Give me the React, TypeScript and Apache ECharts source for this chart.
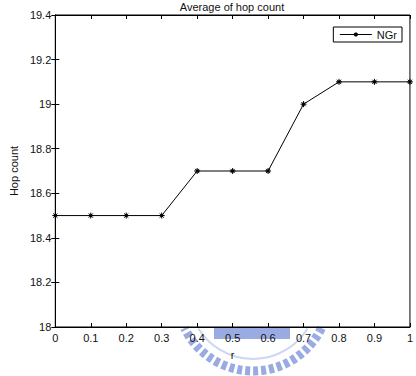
import React, { useEffect, useRef } from "react";
import * as echarts from "echarts";

const rValues = [0, 0.1, 0.2, 0.3, 0.4, 0.5, 0.6, 0.7, 0.8, 0.9, 1];
const hopCount = [18.5, 18.5, 18.5, 18.5, 18.7, 18.7, 18.7, 19.0, 19.1, 19.1, 19.1];
const seriesName = "NGr";
const titleText = "Average of hop count";

const starPath = "path://M5,0L5,10M0,5L10,5M1.5,1.5L8.5,8.5M1.5,8.5L8.5,1.5M3.5,3.5L6.5,3.5L6.5,6.5L3.5,6.5Z";

export default function App() {
  const ref = useRef<HTMLDivElement>(null);
  useEffect(() => {
    const chart = echarts.init(ref.current!, null, { renderer: "svg" });
    const font = "Liberation Sans";
    const data = rValues.map((r, i) => [r, hopCount[i]]);
    chart.setOption({
      animation: false,
      backgroundColor: "#ffffff",
      textStyle: { fontFamily: font },
      grid: { left: 44, right: 6, top: 15, bottom: 49, show: true, borderColor: "#000", borderWidth: 1 },
      title: {
        text: titleText,
        left: 227,
        textAlign: "center",
        top: -4,
        textStyle: { fontSize: 11, fontWeight: "normal", color: "#111", fontFamily: font },
      },
      legend: {
        data: [{ name: seriesName }],
        right: 14,
        top: 27,
        orient: "vertical",
        backgroundColor: "#fff",
        borderColor: "#000",
        borderWidth: 1,
        padding: [2, 5, 2, 6],
        itemWidth: 32,
        itemHeight: 5,
        itemGap: 4,
        lineStyle: { width: 1, color: "#000" },
        textStyle: { fontSize: 11, color: "#111", fontFamily: font },
      },
      xAxis: [
        {
          type: "value",
          min: 0,
          max: 1,
          interval: 0.1,
          name: "r",
          nameLocation: "middle",
          nameGap: 22,
          nameTextStyle: { fontSize: 11, color: "#111", fontFamily: font },
          axisLine: { show: true, lineStyle: { color: "#000" } },
          axisTick: { show: true, inside: true, length: 4, lineStyle: { color: "#000" } },
          axisLabel: { fontSize: 11, color: "#111", margin: 5, fontFamily: font },
          splitLine: { show: false },
          z: 10,
        },
        {
          type: "value",
          position: "top",
          min: 0,
          max: 1,
          interval: 0.1,
          axisLine: { show: true, lineStyle: { color: "#000" } },
          axisTick: { show: true, inside: true, length: 4, lineStyle: { color: "#000" } },
          axisLabel: { show: false },
          splitLine: { show: false },
        },
      ],
      yAxis: [
        {
          type: "value",
          min: 18,
          max: 19.4,
          interval: 0.2,
          name: "Hop count",
          nameLocation: "middle",
          nameGap: 31,
          nameTextStyle: { fontSize: 11, color: "#111", fontFamily: font },
          axisLine: { show: true, lineStyle: { color: "#000" } },
          axisTick: { show: true, inside: true, length: 4, lineStyle: { color: "#000" } },
          axisLabel: {
            fontSize: 11,
            color: "#111",
            margin: 4,
            fontFamily: font,
            formatter: (v: number) => String(parseFloat(v.toFixed(1))),
          },
          splitLine: { show: false },
        },
        {
          type: "value",
          position: "right",
          min: 18,
          max: 19.4,
          interval: 0.2,
          axisLine: { show: true, lineStyle: { color: "#000" } },
          axisTick: { show: true, inside: true, length: 4, lineStyle: { color: "#000" } },
          axisLabel: { show: false },
          splitLine: { show: false },
        },
      ],
      graphic: [
        {
          type: "group",
          z: -1,
          children: [
            {
              type: "arc",
              shape: { cx: 253, cy: 295, r: 76, startAngle: 0.45, endAngle: Math.PI - 0.45 },
              style: { stroke: "#9aabe3", lineWidth: 9, fill: "none", lineDash: [5, 3] },
              z: -1,
            },
            {
              type: "arc",
              shape: { cx: 253, cy: 295, r: 64, startAngle: 0.55, endAngle: Math.PI - 0.55 },
              style: { stroke: "#cdd6f2", lineWidth: 2, fill: "none" },
              z: -1,
            },
            {
              type: "rect",
              shape: { x: 214, y: 328, width: 76, height: 11 },
              style: { fill: "#9aabe3" },
              z: -1,
            },
          ],
        },
      ],
      series: [
        {
          name: seriesName,
          type: "line",
          data,
          symbol: starPath,
          symbolSize: 6,
          showSymbol: true,
          itemStyle: { color: "#000", borderColor: "#000", borderWidth: 1 },
          lineStyle: { color: "#000", width: 1 },
          z: 5,
        },
      ],
    });
    return () => chart.dispose();
  }, []);
  return <div ref={ref} style={{ width: 416, height: 376, position: "absolute", left: 0, top: 0 }} />;
}
